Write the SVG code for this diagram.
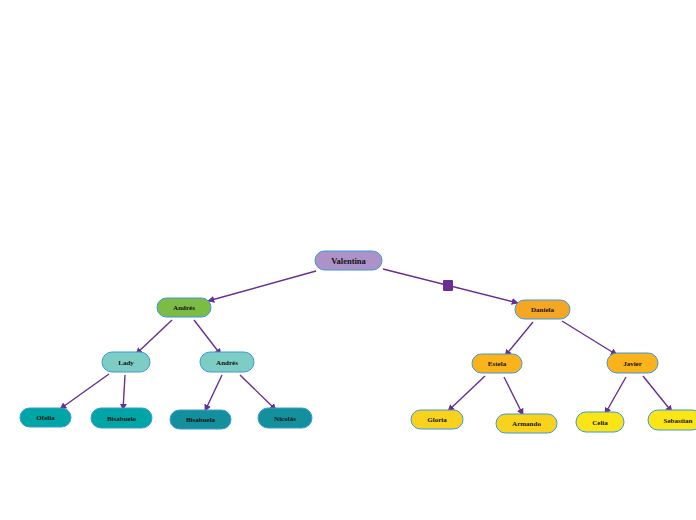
<svg xmlns="http://www.w3.org/2000/svg" width="696" height="520" viewBox="0 0 696 520">
<defs>
<marker id="ah" viewBox="0 0 10 10" refX="9" refY="5" markerWidth="5" markerHeight="5" orient="auto"><path d="M0,0 L10,5 L0,10 z" fill="#6a2d91"/></marker>
<style>
.n{stroke:#3a9ad9;stroke-width:1}
.t{font-family:"Liberation Serif",serif;font-weight:bold;font-size:7px;fill:#111;text-anchor:middle}
.c{stroke:#6a2d91;stroke-width:1.4;fill:none;marker-end:url(#ah)}
</style>
</defs>
<rect width="696" height="520" fill="#fff"/>
<g id="connectors">
<line class="c" x1="316" y1="271" x2="208" y2="301"/>
<line class="c" x1="383" y1="269" x2="518" y2="303"/>
<rect x="443" y="280" width="10" height="11" rx="1" fill="#6a2d91"/>
<line class="c" x1="172" y1="320" x2="136" y2="354"/>
<line class="c" x1="194" y1="320" x2="221" y2="355"/>
<line class="c" x1="109" y1="374" x2="60" y2="409"/>
<line class="c" x1="125" y1="375" x2="123" y2="410"/>
<line class="c" x1="222" y1="375" x2="205" y2="411"/>
<line class="c" x1="240" y1="375" x2="276" y2="410"/>
<line class="c" x1="533" y1="322" x2="505" y2="356"/>
<line class="c" x1="562" y1="321" x2="617" y2="355"/>
<line class="c" x1="485" y1="376" x2="448" y2="411"/>
<line class="c" x1="504" y1="377" x2="523" y2="415"/>
<line class="c" x1="626" y1="377" x2="605" y2="414"/>
<line class="c" x1="643" y1="376" x2="672" y2="412"/>
</g>
<g id="valentina"><rect class="n" x="315" y="251" width="67" height="19" rx="9.5" fill="#ad92c8"/><text class="t" x="348.5" y="263.5" style="font-size:8.5px">Valentina</text></g>
<g id="andres1"><rect class="n" x="157" y="298" width="54" height="19" rx="9.5" fill="#7cbb44"/><text class="t" x="184" y="310">Andrés</text></g>
<g id="daniela"><rect class="n" x="515" y="300" width="55" height="19" rx="9.5" fill="#f5a623"/><text class="t" x="542.5" y="312">Daniela</text></g>
<g id="lady"><rect class="n" x="102" y="352" width="48" height="20" rx="10" fill="#7ecdc4"/><text class="t" x="126" y="364.5">Lady</text></g>
<g id="andres2"><rect class="n" x="200" y="352" width="54" height="20" rx="10" fill="#7ecdc4"/><text class="t" x="227" y="364.5">Andrés</text></g>
<g id="estela"><rect class="n" x="472" y="354" width="50" height="19" rx="9.5" fill="#fbb31b"/><text class="t" x="497" y="366">Estela</text></g>
<g id="javier"><rect class="n" x="607" y="353" width="51" height="20" rx="10" fill="#fbb31b"/><text class="t" x="632.5" y="365.5">Javier</text></g>
<g id="ofelia"><rect class="n" x="20" y="408" width="51" height="19" rx="9.5" fill="#00a6a6"/><text class="t" x="45.5" y="420">Ofelia</text></g>
<g id="bisabuelo"><rect class="n" x="91" y="408" width="61" height="20" rx="10" fill="#00a6a6"/><text class="t" x="121.5" y="420.5">Bisabuelo</text></g>
<g id="bisabuela"><rect class="n" x="170" y="410" width="61" height="19" rx="9.5" fill="#13909c"/><text class="t" x="200.5" y="422">Bisabuela</text></g>
<g id="nicolas"><rect class="n" x="258" y="408" width="54" height="20" rx="10" fill="#13909c"/><text class="t" x="285" y="420.5">Nicolás</text></g>
<g id="gloria"><rect class="n" x="411" y="410" width="52" height="19" rx="9.5" fill="#f8d21c"/><text class="t" x="437" y="422">Gloria</text></g>
<g id="armando"><rect class="n" x="496" y="414" width="61" height="19" rx="9.5" fill="#f8d21c"/><text class="t" x="526.5" y="426">Armando</text></g>
<g id="celia"><rect class="n" x="576" y="412" width="48" height="20" rx="10" fill="#fbe516"/><text class="t" x="600" y="424.5">Celia</text></g>
<g id="sebastian"><rect class="n" x="648" y="410" width="54" height="20" rx="10" fill="#fbe516"/><text class="t" x="678" y="422.5">Sebastian</text></g>
</svg>
